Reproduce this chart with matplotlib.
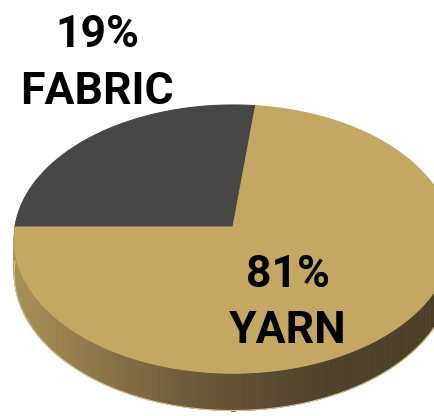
import matplotlib.pyplot as plt
import numpy as np
from matplotlib.collections import PolyCollection
from matplotlib.colors import LinearSegmentedColormap

segments = ["FABRIC", "YARN"]
pct_labels = ["19%", "81%"]
# slice sizes as they are drawn in the picture (degrees of the top face)
shares = [26.8, 73.2]
colors = ["#474747", "#c5a764"]

# 3d look: perspective tilted ellipse, in pixel units
cx, cy = 233, 227
a, b, k = 218, 133, 0.09
depth = 34


def project(phi, drop=0.0):
    u, v = np.cos(phi), np.sin(phi)
    w = 1 + k * v
    return cx + a * u / w, cy - b * v / w + drop / w


fig = plt.figure(figsize=(4.34, 4.16), dpi=100)
ax = fig.add_axes([0, 0, 1, 1])
ax.set_xlim(0, 434)
ax.set_ylim(416, 0)
ax.axis("off")

# side wall, shaded light on the left to dark on the right
side_cmap = LinearSegmentedColormap.from_list(
    "side", [(0, "#a88e57"), (0.4, "#6f5b39"), (0.7, "#4f432b"), (1, "#4a3e27")])
phis = np.linspace(np.pi - 0.4, 2 * np.pi + 0.4, 300)
quads = []
xs_mid = []
for p0, p1 in zip(phis[:-1], phis[1:]):
    x0, y0 = project(p0)
    x1, y1 = project(p1)
    x2, y2 = project(p1, depth)
    x3, y3 = project(p0, depth)
    quads.append([(x0, y0), (x1, y1), (x2, y2), (x3, y3)])
    xs_mid.append((x0 + x1) / 2)
xs_mid = np.array(xs_mid)
shade = side_cmap(np.clip((xs_mid - 15) / 420, 0, 1))
ax.add_collection(PolyCollection(quads, facecolors=shade, edgecolors=shade,
                                 linewidths=0.5))
bx, by = project(np.linspace(np.pi, 2 * np.pi, 200), depth)
ax.plot(bx, by, color="#d8c48f", lw=0.8)

# top face wedges, first slice ends on the left, going clockwise
start = 180.0
for share, col in zip(shares, colors):
    end = start - share / 100 * 360
    t = np.radians(np.linspace(start, end, 200))
    px, py = project(t)
    ax.fill(np.r_[cx, px], np.r_[cy, py], facecolor=col, edgecolor=col, lw=0.8)
    start = end

# labels
fonts = ["Roboto", "DejaVu Sans"]
label_pos = [(97, 47, 104), (288, 287, 343)]
for pct, name, (lx, y1, y2) in zip(pct_labels, segments, label_pos):
    ax.text(lx, y1, pct, ha="center", va="baseline", fontsize=32,
            fontweight="bold", family=fonts, color="black")
    ax.text(lx, y2, name, ha="center", va="baseline", fontsize=32,
            fontweight="bold", family=fonts, color="black")

fig.savefig("out.png", dpi=100)
